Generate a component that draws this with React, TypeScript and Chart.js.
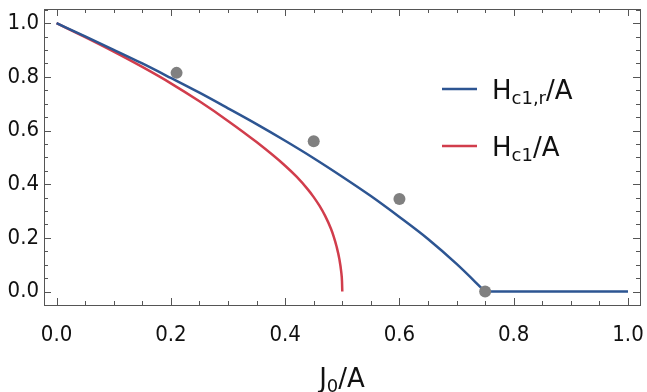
import React, { useEffect, useRef } from 'react';
import { Chart, registerables } from 'chart.js';
Chart.register(...registerables);

// H_c1,r / A  (blue curve); the null splits the curved part from the flat part at the corner
const blueX = [0, 0.05, 0.1, 0.15, 0.2, 0.25, 0.3, 0.35, 0.4, 0.45, 0.5, 0.55, 0.6, 0.65, 0.7, 0.75, 0.75, 0.75, 0.8, 0.85, 0.9, 0.95, 1.0];
const blueY = [1.0, 0.951, 0.901, 0.85, 0.796, 0.741, 0.683, 0.624, 0.562, 0.497, 0.428, 0.356, 0.278, 0.196, 0.103, 0.0, null, 0, 0, 0, 0, 0, 0];
// H_c1 / A  (red curve)
const redX = [0, 0.05, 0.1, 0.15, 0.2, 0.25, 0.3, 0.35, 0.4, 0.42, 0.44, 0.45, 0.46, 0.47, 0.48, 0.485, 0.49, 0.495, 0.498, 0.4995, 0.5];
const redY = [1.0, 0.948, 0.894, 0.837, 0.776, 0.709, 0.636, 0.557, 0.469, 0.428, 0.38, 0.352, 0.32, 0.282, 0.235, 0.205, 0.168, 0.12, 0.076, 0.038, 0.0];
// measured points
const dotX = [0.21, 0.45, 0.6, 0.75];
const dotY = [0.815, 0.56, 0.345, 0.0];

const xTicks = [0, 0.2, 0.4, 0.6, 0.8, 1.0];
const yTicks = [0, 0.2, 0.4, 0.6, 0.8, 1.0];
const seriesLabels = ['Hc1,r/A', 'Hc1/A'];

const BLUE = '#2d5592';
const RED = '#d13d4c';
const FRAME = '#555555';
const FONT = "'DejaVu Sans Condensed', 'DejaVu Sans', sans-serif";
const LFONT = "'DejaVu Sans', sans-serif";

function drawSubText(ctx: CanvasRenderingContext2D, parts: [string, boolean][], x: number, y: number, size: number, align: 'left' | 'center') {
  const subSize = Math.round(size * 0.7);
  let total = 0;
  for (const [t, sub] of parts) {
    ctx.font = `${sub ? subSize : size}px ${LFONT}`;
    total += ctx.measureText(t).width;
  }
  let cx = align === 'center' ? x - total / 2 : x;
  ctx.textBaseline = 'alphabetic';
  ctx.textAlign = 'left';
  for (const [t, sub] of parts) {
    ctx.font = `${sub ? subSize : size}px ${LFONT}`;
    ctx.fillText(t, cx, sub ? y + size * 0.21 : y);
    cx += ctx.measureText(t).width;
  }
}

const framePlugin = {
  id: 'frame',
  afterDraw(chart: any) {
    const ctx = chart.ctx as CanvasRenderingContext2D;
    const { left, right, top, bottom } = chart.chartArea;
    const xs = chart.scales.x;
    const ys = chart.scales.y;
    ctx.save();
    ctx.strokeStyle = FRAME;
    ctx.lineWidth = 1;
    ctx.strokeRect(Math.round(left) + 0.5, Math.round(top) + 0.5, Math.round(right - left), Math.round(bottom - top));
    ctx.beginPath();
    for (let i = -2; i <= 22; i++) {
      const v = i * 0.05;
      const len = i % 4 === 0 ? 7 : 4;
      if (v >= xs.min && v <= xs.max) {
        const px = Math.round(xs.getPixelForValue(v)) + 0.5;
        ctx.moveTo(px, bottom);
        ctx.lineTo(px, bottom - len);
        ctx.moveTo(px, top);
        ctx.lineTo(px, top + len);
      }
      if (v >= ys.min && v <= ys.max) {
        const py = Math.round(ys.getPixelForValue(v)) + 0.5;
        ctx.moveTo(left, py);
        ctx.lineTo(left + len, py);
        ctx.moveTo(right, py);
        ctx.lineTo(right - len, py);
      }
    }
    ctx.stroke();

    // legend
    const legend: [string, string, [string, boolean][], number][] = [
      [seriesLabels[0], BLUE, [['H', false], ['c1,r', true], ['/A', false]], 89],
      [seriesLabels[1], RED, [['H', false], ['c1', true], ['/A', false]], 146],
    ];
    ctx.fillStyle = '#111';
    for (const [, color, parts, ly] of legend) {
      ctx.strokeStyle = color;
      ctx.lineWidth = 2.5;
      ctx.beginPath();
      ctx.moveTo(442, ly);
      ctx.lineTo(477, ly);
      ctx.stroke();
      drawSubText(ctx, parts, 492, ly + 9.5, 26, 'left');
    }
    // x axis title
    drawSubText(ctx, [['J', false], ['0', true], ['/A', false]], (left + right) / 2, 387, 26, 'center');
    ctx.restore();
  },
};

export default function App() {
  const ref = useRef<HTMLCanvasElement>(null);
  useEffect(() => {
    const canvas = ref.current!;
    const tickFont = { family: FONT, size: 22 };
    const chart = new Chart(canvas, {
      type: 'line',
      data: {
        datasets: [
          {
            type: 'scatter',
            label: 'data',
            data: dotX.map((x, i) => ({ x, y: dotY[i] })),
            pointRadius: 6,
            pointBackgroundColor: '#808080',
            pointBorderWidth: 0,
            showLine: false,
            order: 0,
          } as any,
          {
            label: seriesLabels[0],
            data: blueX.map((x, i) => ({ x, y: blueY[i] })),
            borderColor: BLUE,
            borderWidth: 2.5,
            pointRadius: 0,
            cubicInterpolationMode: 'monotone',
            spanGaps: false,
            fill: false,
            order: 1,
          },
          {
            label: seriesLabels[1],
            data: redX.map((x, i) => ({ x, y: redY[i] })),
            borderColor: RED,
            borderWidth: 2.5,
            pointRadius: 0,
            cubicInterpolationMode: 'monotone',
            fill: false,
            order: 2,
          },
        ],
      },
      options: {
        responsive: false,
        animation: false,
        layout: { padding: { top: 9, right: 7, left: 0, bottom: 0 } },
        plugins: { legend: { display: false }, tooltip: { enabled: false } },
        scales: {
          x: {
            type: 'linear',
            min: -0.022,
            max: 1.021,
            afterBuildTicks: (s: any) => { s.ticks = xTicks.map((v) => ({ value: v })); },
            afterFit: (s: any) => { s.height = 87; s.paddingLeft = 0; s.paddingRight = 0; },
            grid: { display: false, drawTicks: false },
            border: { display: false },
            ticks: {
              font: tickFont,
              color: '#111',
              padding: 17,
              maxRotation: 0,
              autoSkip: false,
              callback: (v: any) => Number(v).toFixed(1),
            },
          },
          y: {
            type: 'linear',
            min: -0.05,
            max: 1.053,
            afterBuildTicks: (s: any) => { s.ticks = yTicks.map((v) => ({ value: v })); },
            afterFit: (s: any) => { s.width = 44; s.paddingTop = 0; s.paddingBottom = 0; },
            grid: { display: false, drawTicks: false },
            border: { display: false },
            ticks: {
              font: tickFont,
              color: '#111',
              padding: 5,
              autoSkip: false,
              callback: (v: any) => Number(v).toFixed(1),
            },
          },
        },
      },
      plugins: [framePlugin],
    });
    return () => chart.destroy();
  }, []);
  return (
    <div style={{ position: 'absolute', left: 0, top: 0, width: 647, height: 392, background: '#fff' }}>
      <canvas ref={ref} width={647} height={392} style={{ display: 'block' }} />
    </div>
  );
}
